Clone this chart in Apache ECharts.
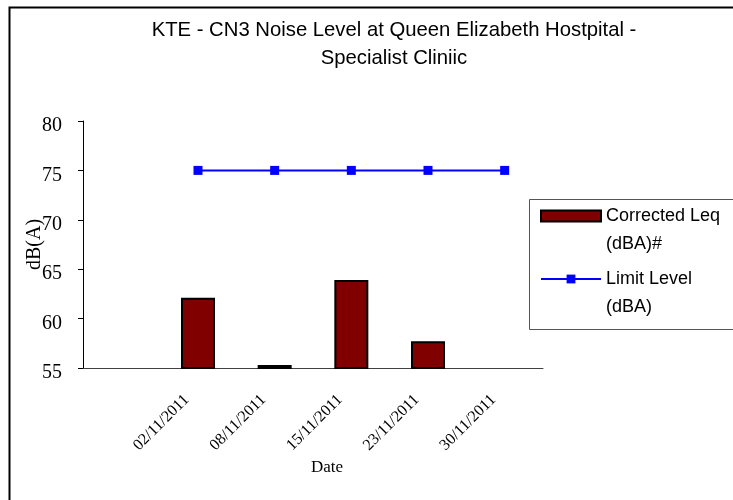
<!DOCTYPE html>
<html>
<head>
<meta charset="utf-8">
<title>KTE - CN3 Noise Level</title>
<script src="https://cdn.jsdelivr.net/npm/echarts@6/dist/echarts.min.js"></script>
<style>
  html, body { margin: 0; padding: 0; background: #fff; }
  #chart { width: 733px; height: 500px; }
</style>
</head>
<body>
<div id="chart"></div>
<script>
  // 日期 (first slot is empty, as in the original sheet)
  var categories = ['', '02/11/2011', '08/11/2011', '15/11/2011', '23/11/2011', '30/11/2011'];
  var leqValues = [null, 62.1, 55.3, 63.9, 57.7, null];
  var limitValues = [null, 75, 75, 75, 75, 75];
  var seriesNames = ['Corrected Leq (dBA)#', 'Limit Level (dBA)'];
  var legendLines = {
    'Corrected Leq (dBA)#': ['Corrected Leq', '(dBA)#'],
    'Limit Level (dBA)': ['Limit Level', '(dBA)']
  };
  var yMin = 55, yMax = 80, yStep = 5;

  var serif = 'Liberation Serif';
  var sans = 'Liberation Sans';

  var chart = echarts.init(document.getElementById('chart'));

  chart.setOption({
    animation: false,
    title: {
      text: 'KTE - CN3 Noise Level at Queen Elizabeth Hostpital -\nSpecialist Cliniic',
      left: 394,
      top: 16,
      textAlign: 'center',
      padding: 0,
      textStyle: {
        fontFamily: sans,
        fontWeight: 'normal',
        fontSize: 20.3,
        lineHeight: 28,
        color: '#000'
      }
    },
    graphic: [
      { // outer chart frame
        type: 'rect',
        left: 7, top: 5,
        shape: { width: 800, height: 600 },
        style: { fill: 'none', stroke: '#000', lineWidth: 2 },
        silent: true
      },
      { // legend frame
        type: 'rect',
        left: 527, top: 197,
        shape: { width: 300, height: 130 },
        style: { fill: 'none', stroke: '#555', lineWidth: 1 },
        silent: true
      }
    ],
    legend: {
      orient: 'vertical',
      left: 540,
      top: 207,
      padding: 0,
      itemWidth: 60,
      itemHeight: 11,
      itemGap: 17,
      data: [
        { name: seriesNames[0], icon: 'rect' },
        { name: seriesNames[1] }
      ],
      formatter: function (name) {
        var l = legendLines[name];
        return '{a|' + l[0] + '}\n{b|' + l[1] + '}';
      },
      textStyle: {
        fontFamily: sans,
        fontSize: 18,
        color: '#000',
        rich: {
          a: { fontFamily: sans, fontSize: 18, lineHeight: 56, color: '#000' },
          b: { fontFamily: sans, fontSize: 18, lineHeight: 0, color: '#000' }
        }
      }
    },
    grid: {
      left: 83,
      right: 190,
      top: 121,
      bottom: 132,
      containLabel: false
    },
    xAxis: {
      type: 'category',
      data: categories,
      name: 'Date',
      nameLocation: 'middle',
      nameGap: 91,
      nameTextStyle: {
        fontFamily: serif,
        fontSize: 17,
        color: '#000',
        padding: [0, 0, 0, 28]
      },
      axisLine: { lineStyle: { color: '#404040', width: 1 } },
      axisTick: { inside: true, length: 5, lineStyle: { color: '#000' } },
      axisLabel: {
        interval: 0,
        rotate: 45,
        margin: 18,
        padding: [0, 16, 0, 0],
        fontFamily: serif,
        fontSize: 16,
        color: '#000'
      },
      splitLine: { show: false }
    },
    yAxis: {
      type: 'value',
      min: yMin,
      max: yMax,
      interval: yStep,
      name: 'dB(A)',
      nameLocation: 'middle',
      nameGap: 38,
      nameMoveOverlap: false,
      nameTextStyle: {
        fontFamily: serif,
        fontSize: 20,
        color: '#000'
      },
      axisLine: { show: true, lineStyle: { color: '#000', width: 1 } },
      axisTick: { show: true, length: 5, lineStyle: { color: '#000' } },
      axisLabel: {
        margin: 21,
        verticalAlign: 'top',
        lineHeight: 10,
        fontFamily: serif,
        fontSize: 20,
        color: '#000'
      },
      splitLine: { show: false }
    },
    series: [
      {
        name: seriesNames[0],
        type: 'bar',
        data: leqValues,
        barWidth: 34,
        clip: true,
        itemStyle: {
          color: '#800000',
          borderColor: '#000',
          borderWidth: 2
        }
      },
      {
        name: seriesNames[1],
        type: 'line',
        data: limitValues,
        symbol: 'rect',
        symbolSize: 9,
        lineStyle: { color: '#0000ff', width: 2 },
        itemStyle: { color: '#0000ff' }
      }
    ]
  });
</script>
</body>
</html>
